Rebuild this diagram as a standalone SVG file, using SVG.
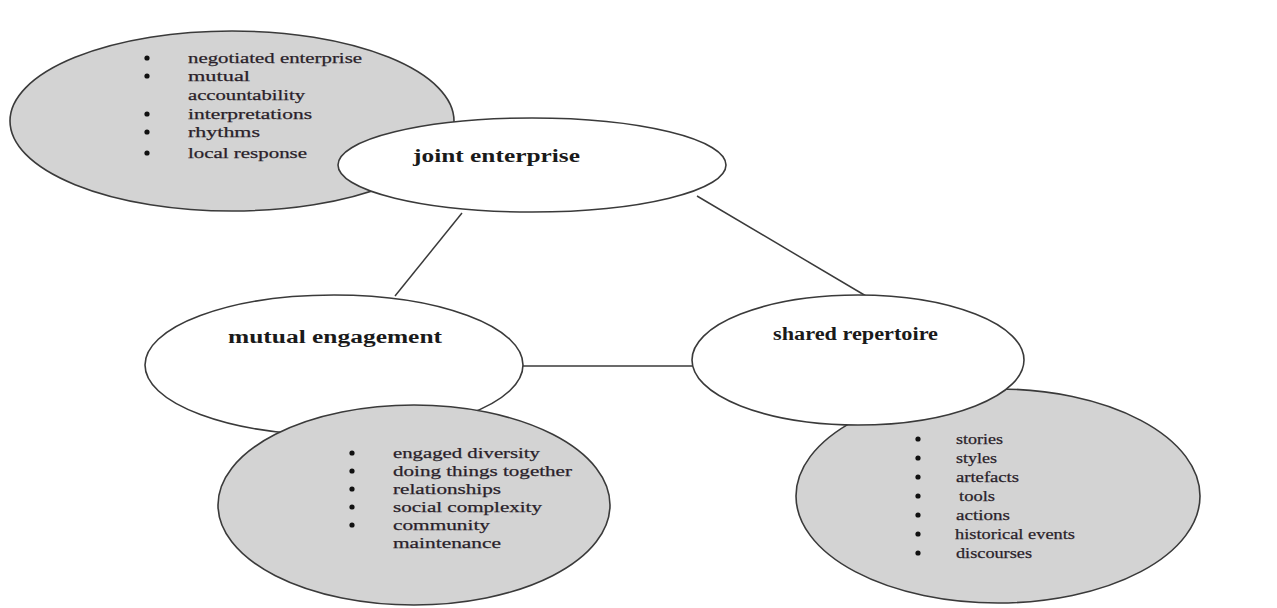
<svg xmlns="http://www.w3.org/2000/svg" width="1277" height="608" viewBox="0 0 1277 608">
<style>
.gray{fill:#d3d3d3;stroke:#3a3a3a;stroke-width:1.6}
.white{fill:#ffffff;stroke:#3a3a3a;stroke-width:1.6}
.head{font-family:"Liberation Serif",serif;font-weight:bold;font-size:18px;fill:#1a1a1a}
.item{font-family:"Liberation Serif",serif;font-size:15px;fill:#2a1f2a;stroke:#2a1f2a;stroke-width:0.25}
.bul{fill:#111}
.conn{stroke:#3a3a3a;stroke-width:1.5;fill:none}
</style>
<rect width="1277" height="608" fill="#ffffff"/>
<g id="connectors">
<line class="conn" x1="462" y1="213" x2="395" y2="296"/>
<line class="conn" x1="697" y1="196" x2="866" y2="296"/>
<line class="conn" x1="523" y1="366" x2="693" y2="366"/>
</g>
<g id="joint-enterprise-items">
<ellipse class="gray" cx="232" cy="121" rx="222" ry="90"/>
<g class="bul">
<circle cx="147" cy="58" r="2.6"/><circle cx="147" cy="76" r="2.6"/><circle cx="147" cy="114" r="2.6"/><circle cx="147" cy="132" r="2.6"/><circle cx="147" cy="153" r="2.6"/>
</g>
<text class="item" x="188" y="63" textLength="174" lengthAdjust="spacingAndGlyphs">negotiated enterprise</text>
<text class="item" x="188" y="81" textLength="62" lengthAdjust="spacingAndGlyphs">mutual</text>
<text class="item" x="188" y="100" textLength="117" lengthAdjust="spacingAndGlyphs">accountability</text>
<text class="item" x="188" y="119" textLength="124" lengthAdjust="spacingAndGlyphs">interpretations</text>
<text class="item" x="188" y="137" textLength="72" lengthAdjust="spacingAndGlyphs">rhythms</text>
<text class="item" x="188" y="158" textLength="119" lengthAdjust="spacingAndGlyphs">local response</text>
</g>
<g id="joint-enterprise">
<ellipse class="white" cx="532" cy="165" rx="194" ry="47"/>
<text class="head" x="413" y="162" textLength="167" lengthAdjust="spacingAndGlyphs">joint enterprise</text>
</g>
<g id="mutual-engagement">
<ellipse class="white" cx="334" cy="365" rx="189" ry="70"/>
<text class="head" x="228" y="343" textLength="214" lengthAdjust="spacingAndGlyphs">mutual engagement</text>
</g>
<g id="mutual-engagement-items">
<ellipse class="gray" cx="414" cy="505" rx="196" ry="100"/>
<g class="bul">
<circle cx="352" cy="453" r="2.6"/><circle cx="352" cy="471" r="2.6"/><circle cx="352" cy="489" r="2.6"/><circle cx="352" cy="507" r="2.6"/><circle cx="352" cy="525" r="2.6"/>
</g>
<text class="item" x="393" y="458" textLength="147" lengthAdjust="spacingAndGlyphs">engaged diversity</text>
<text class="item" x="393" y="476" textLength="179" lengthAdjust="spacingAndGlyphs">doing things together</text>
<text class="item" x="393" y="494" textLength="108" lengthAdjust="spacingAndGlyphs">relationships</text>
<text class="item" x="393" y="512" textLength="149" lengthAdjust="spacingAndGlyphs">social complexity</text>
<text class="item" x="393" y="530" textLength="97" lengthAdjust="spacingAndGlyphs">community</text>
<text class="item" x="393" y="548" textLength="108" lengthAdjust="spacingAndGlyphs">maintenance</text>
</g>
<g id="shared-repertoire-items">
<ellipse class="gray" cx="998" cy="496" rx="202" ry="107"/>
<g class="bul">
<circle cx="918" cy="439" r="2.6"/><circle cx="918" cy="458" r="2.6"/><circle cx="918" cy="477" r="2.6"/><circle cx="918" cy="496" r="2.6"/><circle cx="918" cy="515" r="2.6"/><circle cx="918" cy="534" r="2.6"/><circle cx="918" cy="553" r="2.6"/>
</g>
<text class="item" x="956" y="444" textLength="47" lengthAdjust="spacingAndGlyphs">stories</text>
<text class="item" x="956" y="463" textLength="41" lengthAdjust="spacingAndGlyphs">styles</text>
<text class="item" x="956" y="482" textLength="63" lengthAdjust="spacingAndGlyphs">artefacts</text>
<text class="item" x="959" y="501" textLength="36" lengthAdjust="spacingAndGlyphs">tools</text>
<text class="item" x="956" y="520" textLength="54" lengthAdjust="spacingAndGlyphs">actions</text>
<text class="item" x="955" y="539" textLength="120" lengthAdjust="spacingAndGlyphs">historical events</text>
<text class="item" x="956" y="558" textLength="76" lengthAdjust="spacingAndGlyphs">discourses</text>
</g>
<g id="shared-repertoire">
<ellipse class="white" cx="858" cy="360" rx="166" ry="65"/>
<text class="head" x="773" y="340" textLength="165" lengthAdjust="spacingAndGlyphs">shared repertoire</text>
</g>
</svg>
